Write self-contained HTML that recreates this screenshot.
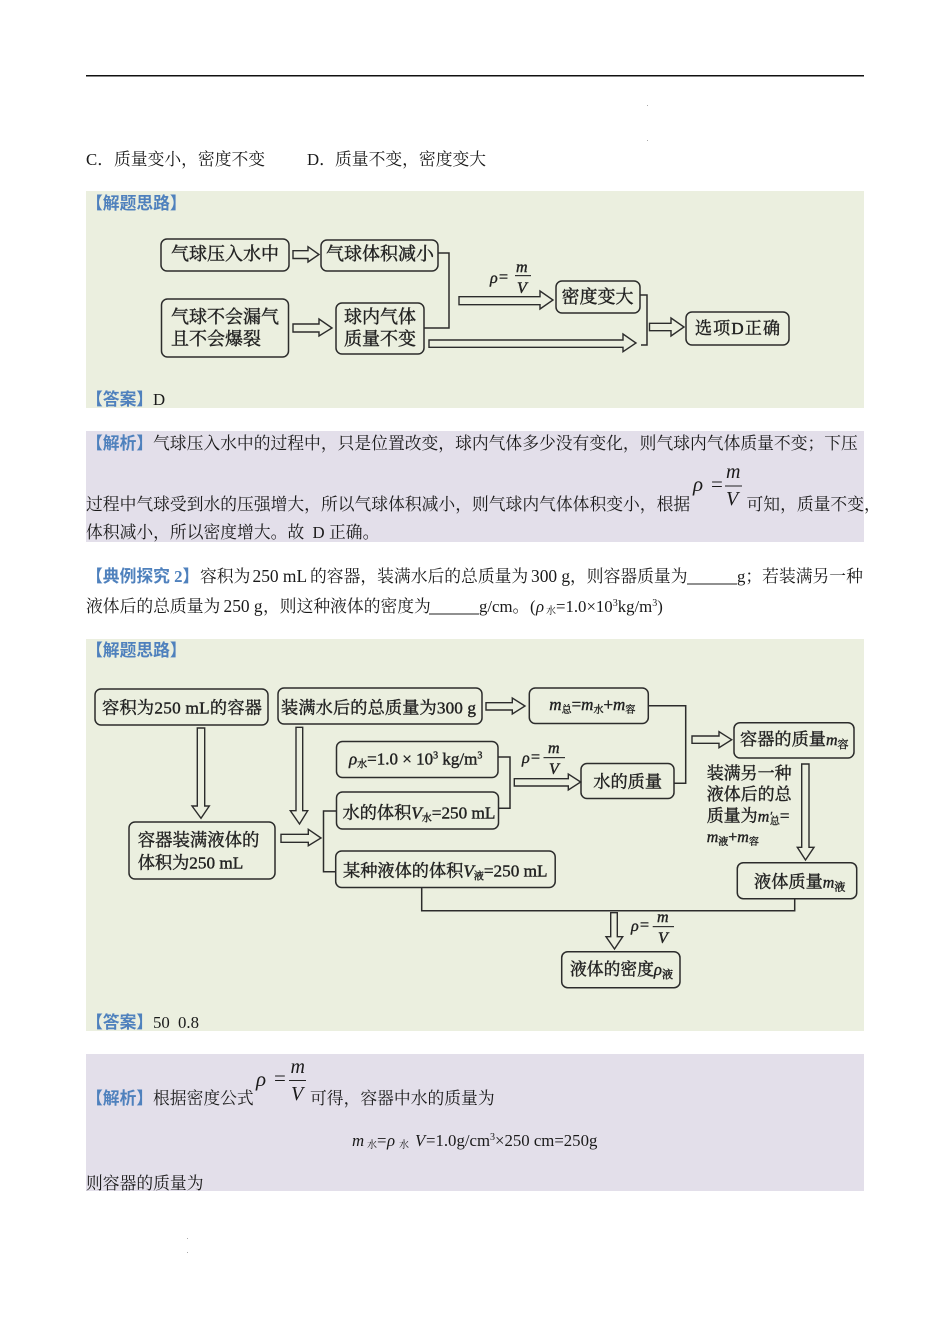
<!DOCTYPE html>
<html><head><meta charset="utf-8">
<style>
html,body{margin:0;padding:0;background:#fff}
svg{display:block;filter:blur(.3px)}
text{font-family:"Liberation Serif","Noto Serif CJK SC",serif;fill:#1a1a1a;font-size:16.8px}
.b{fill:#4f81bd;font-weight:700;font-family:"Liberation Serif","Noto Sans CJK SC",sans-serif}
.i{font-style:italic}
.s{font-size:10px}
.l{font-size:17.4px}
.d text{font-size:17.4px;fill:#222;stroke:#222;stroke-width:.4}
.d .s{font-size:10px}
.d .f{font-size:16px}
.box rect{fill:none;stroke:#2c2c2c;stroke-width:1.5}
.ln{fill:none;stroke:#2c2c2c;stroke-width:1.5}
.ar{fill:none;stroke:#2c2c2c;stroke-width:1.4;stroke-linejoin:miter}
</style></head><body>
<svg width="950" height="1344" viewBox="0 0 950 1344" xmlns="http://www.w3.org/2000/svg">
<rect width="950" height="1344" fill="#fff"/>
<rect x="86" y="75" width="778" height="1.5" fill="#111"/>
<rect x="86" y="191" width="778" height="217" fill="#ebefdf"/>
<rect x="86" y="431" width="778" height="111" fill="#e3dfea"/>
<rect x="86" y="639" width="778" height="392" fill="#ebefdf"/>
<rect x="86" y="1054" width="778" height="137" fill="#e3dfea"/>
<rect x="647" y="105" width="1" height="1" fill="#aaa"/><rect x="647" y="140" width="1" height="1" fill="#aaa"/>
<rect x="187" y="1238" width="1" height="1" fill="#aaa"/><rect x="187" y="1252" width="1" height="1" fill="#aaa"/>

<text x="86" y="165">C．</text><text x="114" y="165">质量变小，密度不变</text>
<text x="307" y="165">D．</text><text x="335" y="165">质量不变，密度变大</text>

<text class="b" x="86" y="209">【解题思路】</text>
<text class="b" x="86" y="405">【答案】</text><text x="153" y="405">D</text>

<text class="b" x="86" y="449">【解析】</text>
<text x="153" y="449">气球压入水中的过程中，只是位置改变，球内气体多少没有变化，则气球内气体质量不变；下压</text>
<text x="86" y="510">过程中气球受到水的压强增大，所以气球体积减小，则气球内气体体积变小，根据</text>
<text class="i" x="693" y="491" style="font-size:21px">ρ</text><text x="711" y="491" style="font-size:21px">=</text>
<text class="i" x="726" y="478" style="font-size:20px">m</text><rect x="725" y="485.5" width="17" height="1" fill="#222"/><text class="i" x="726" y="505" style="font-size:20px">V</text>
<text x="746.5" y="510">可知，质量不变，</text>
<text x="86" y="538">体积减小，所以密度增大。故</text><text x="312.5" y="538">D</text><text x="329" y="538">正确。</text>

<text class="b" x="86" y="582">【典例探究 2】</text>
<text x="200" y="582">容积为</text><text class="l" x="252.5" y="582">250 mL</text><text x="310" y="582">的容器，装满水后的总质量为</text>
<text class="l" x="531" y="582">300 g</text><text x="570" y="582">，则容器质量为</text>
<rect x="687" y="583.5" width="50" height="1" fill="#222"/><text x="737" y="582">g；若装满另一种</text>
<text x="86" y="612">液体后的总质量为</text><text class="l" x="223.5" y="612">250 g</text><text x="263" y="612">，则这种液体的密度为</text>
<rect x="429" y="613.5" width="50" height="1" fill="#222"/><text x="479" y="612">g/cm。</text>
<text x="530" y="612">(</text><text class="i" x="536" y="612">ρ</text><text class="s" x="546" y="614">水</text><text x="556" y="612">=1.0×10<tspan dy="-6" style="font-size:10px">3</tspan><tspan dy="6">kg/m</tspan><tspan dy="-6" style="font-size:10px">3</tspan><tspan dy="6">)</tspan></text>

<text class="b" x="86" y="656">【解题思路】</text>
<text class="b" x="86" y="1028">【答案】</text><text x="153" y="1028">50</text><text x="178" y="1028">0.8</text>

<text class="b" x="86" y="1104">【解析】</text><text x="153" y="1104">根据密度公式</text>
<text class="i" x="256" y="1086" style="font-size:21px">ρ</text><text x="274" y="1085" style="font-size:21px">=</text>
<text class="i" x="290.500" y="1073" style="font-size:20px">m</text><rect x="289" y="1080" width="17" height="1" fill="#222"/><text class="i" x="291" y="1100" style="font-size:20px">V</text>
<text x="310" y="1104">可得，容器中水的质量为</text>
<text class="i" x="352" y="1146">m</text><text class="s" x="367" y="1148">水</text><text x="377" y="1146">=</text><text class="i" x="387" y="1146">ρ</text><text class="s" x="399" y="1148">水</text><text class="i" x="415" y="1146">V</text><text x="426" y="1146">=1.0g/cm<tspan dy="-6" style="font-size:10px">3</tspan><tspan dy="6">×250 cm=250g</tspan></text>
<text x="86" y="1189">则容器的质量为</text>

<!-- diagram 1 -->
<g class="box">
<rect x="161" y="239" width="128" height="32" rx="6"/>
<rect x="321" y="240" width="117" height="31" rx="6"/>
<rect x="161.500" y="299" width="127" height="58" rx="6"/>
<rect x="336" y="303" width="88" height="51" rx="6"/>
<rect x="556" y="281" width="84" height="32" rx="6"/>
<rect x="686" y="312" width="103" height="33" rx="6"/>
</g>
<g class="ar">
<polygon points="293,250.700 308,250.700 308,246.700 319,254.500 308,262 308,258.500 293,258.500"/>
<polygon points="293,324 319,324 319,319 332,328 319,336 319,332 293,332"/>
<polygon points="459,296.700 540,296.700 540,291 553,300 540,309 540,304.700 459,304.700"/>
<polygon points="429,340 623,340 623,334 636,343 623,351.700 623,347.300 429,347.300"/>
<polygon points="649.500,323.300 671,323.300 671,318 684,327 671,336 671,330.700 649.500,330.700"/>
</g>
<path class="ln" d="M438,253H449V328H424M640,295H647V345H641"/>
<g class="d">
<text x="171" y="260" style="font-size:18px">气球压入水中</text>
<text x="326" y="260" style="font-size:18px">气球体积减小</text>
<text x="171" y="323" style="font-size:18px">气球不会漏气</text>
<text x="171" y="345" style="font-size:18px">且不会爆裂</text>
<text x="344" y="323" style="font-size:18px">球内气体</text>
<text x="344" y="345" style="font-size:18px">质量不变</text>
<text x="561.500" y="303" style="font-size:18px">密度变大</text>
<text x="695" y="334" textLength="85" style="font-size:17px">选项D正确</text>
<text class="i f" x="490" y="283">ρ</text><text class="f" x="499" y="282">=</text>
<text class="i f" x="516" y="272">m</text><text class="i f" x="517" y="293">V</text>
</g>
<rect x="515" y="275" width="16" height="1.2" fill="#333"/>

<!-- diagram 2 -->
<g class="box">
<rect x="95" y="689" width="173" height="36" rx="6"/>
<rect x="278" y="688" width="204" height="36" rx="6"/>
<rect x="336.500" y="741.500" width="161.500" height="36" rx="6"/>
<rect x="336.500" y="792" width="162" height="37" rx="6"/>
<rect x="335.700" y="851" width="219.500" height="36.500" rx="6"/>
<rect x="129" y="822" width="146" height="57" rx="6"/>
<rect x="529.300" y="688" width="119" height="35.500" rx="6"/>
<rect x="581" y="763.500" width="93" height="35" rx="6"/>
<rect x="734" y="722.700" width="120" height="35.300" rx="6"/>
<rect x="737.300" y="862.700" width="119.400" height="36" rx="6"/>
<rect x="561.700" y="951.700" width="118.300" height="36" rx="6"/>
</g>
<g class="ar">
<polygon points="197.300,728 204.700,728 204.700,806 209.300,806 201,818.300 192,806 197.300,806"/>
<polygon points="296,727.300 302.700,727.300 302.700,810.700 307.700,810.700 299.500,824 290.300,810.700 296,810.700"/>
<polygon points="281,834.300 308.300,834.300 308.300,829.300 321,838 308.300,845.700 308.300,842.300 281,842.300"/>
<polygon points="486,702.700 512.300,702.700 512.300,698 525,706 512.300,714 512.300,710 486,710"/>
<polygon points="514.300,778.700 568.300,778.700 568.300,774 580.700,782 568.300,790 568.300,786 514.300,786"/>
<polygon points="692,736 719,736 719,731.700 731.700,739.700 719,747.700 719,743.300 692,743.300"/>
<polygon points="801.700,764 809,764 809,847.300 814,847.300 805.500,860 797.300,847.300 801.700,847.300"/>
<polygon points="610.700,912.700 617.300,912.700 617.300,936.700 622.700,936.700 614.500,949 606,936.700 610.700,936.700"/>
</g>
<path class="ln" d="M336,811H323.500V871.700H336M498,757H510V808.300H498.500M648.300,705.700H685.700V783.300H674M421.700,887V910.700H794.700V899"/>
<g class="d">
<text x="102" y="713.500" textLength="160" style="font-size:17.2px">容积为250 mL的容器</text>
<text x="281" y="713.500" textLength="195" style="font-size:17.2px">装满水后的总质量为300 g</text>
<text x="349" y="764.500" style="font-size:17px"><tspan class="i">ρ</tspan><tspan dy="3" style="font-size:10px">水</tspan><tspan dy="-3">=1.0 × 10</tspan><tspan dy="-6" style="font-size:10px">3</tspan><tspan dy="6"> kg/m</tspan><tspan dy="-6" style="font-size:10px">3</tspan></text>
<text x="342.500" y="818.300" style="font-size:17.2px">水的体积<tspan class="i">V</tspan><tspan dy="3" style="font-size:10px">水</tspan><tspan dy="-3">=250 mL</tspan></text>
<text x="343" y="876.700" style="font-size:17.2px">某种液体的体积<tspan class="i">V</tspan><tspan dy="3" style="font-size:10px">液</tspan><tspan dy="-3">=250 mL</tspan></text>
<text x="137.700" y="846" style="font-size:17.4px">容器装满液体的</text>
<text x="137.700" y="868.300" style="font-size:17.2px">体积为250 mL</text>
<text x="549.300" y="710" style="font-size:17px"><tspan class="i">m</tspan><tspan dy="3" style="font-size:10px">总</tspan><tspan dy="-3">=</tspan><tspan class="i">m</tspan><tspan dy="3" style="font-size:10px">水</tspan><tspan dy="-3">+</tspan><tspan class="i">m</tspan><tspan dy="3" style="font-size:10px">容</tspan></text>
<text x="593.300" y="787.300" style="font-size:17.2px">水的质量</text>
<text x="740" y="745" style="font-size:17.2px">容器的质量<tspan class="i" style="font-size:16px">m</tspan><tspan dy="3" style="font-size:11px">容</tspan></text>
<text x="706.700" y="779" style="font-size:17px">装满另一种</text>
<text x="706.700" y="800" style="font-size:17px">液体后的总</text>
<text x="706.700" y="821.500" style="font-size:17px">质量为<tspan class="i" style="font-size:16px">m</tspan><tspan dx="1" dy="-2" style="font-size:12px">′</tspan><tspan dx="-3" dy="5" style="font-size:10px">总</tspan><tspan dy="-3">=</tspan></text>
<text x="706.700" y="842" style="font-size:16px"><tspan class="i">m</tspan><tspan dy="3" style="font-size:10px">液</tspan><tspan dy="-3">+</tspan><tspan class="i">m</tspan><tspan dy="3" style="font-size:10px">容</tspan></text>
<text x="754" y="887.300" style="font-size:17.2px">液体质量<tspan class="i" style="font-size:16px">m</tspan><tspan dy="3" style="font-size:11px">液</tspan></text>
<text x="570" y="975" style="font-size:16.800px">液体的密度<tspan class="i">ρ</tspan><tspan dy="3" style="font-size:11px">液</tspan></text>
<text class="i f" x="522" y="763">ρ</text><text class="f" x="531" y="762">=</text>
<text class="i f" x="548" y="753">m</text><text class="i f" x="549" y="774">V</text>
<text class="i f" x="631" y="931">ρ</text><text class="f" x="640" y="930">=</text>
<text class="i f" x="657" y="922">m</text><text class="i f" x="658" y="943">V</text>
</g>
<rect x="543.500" y="757" width="21.500" height="1.200" fill="#333"/>
<rect x="652.700" y="926" width="21.300" height="1.200" fill="#333"/>
</svg>
</body></html>
